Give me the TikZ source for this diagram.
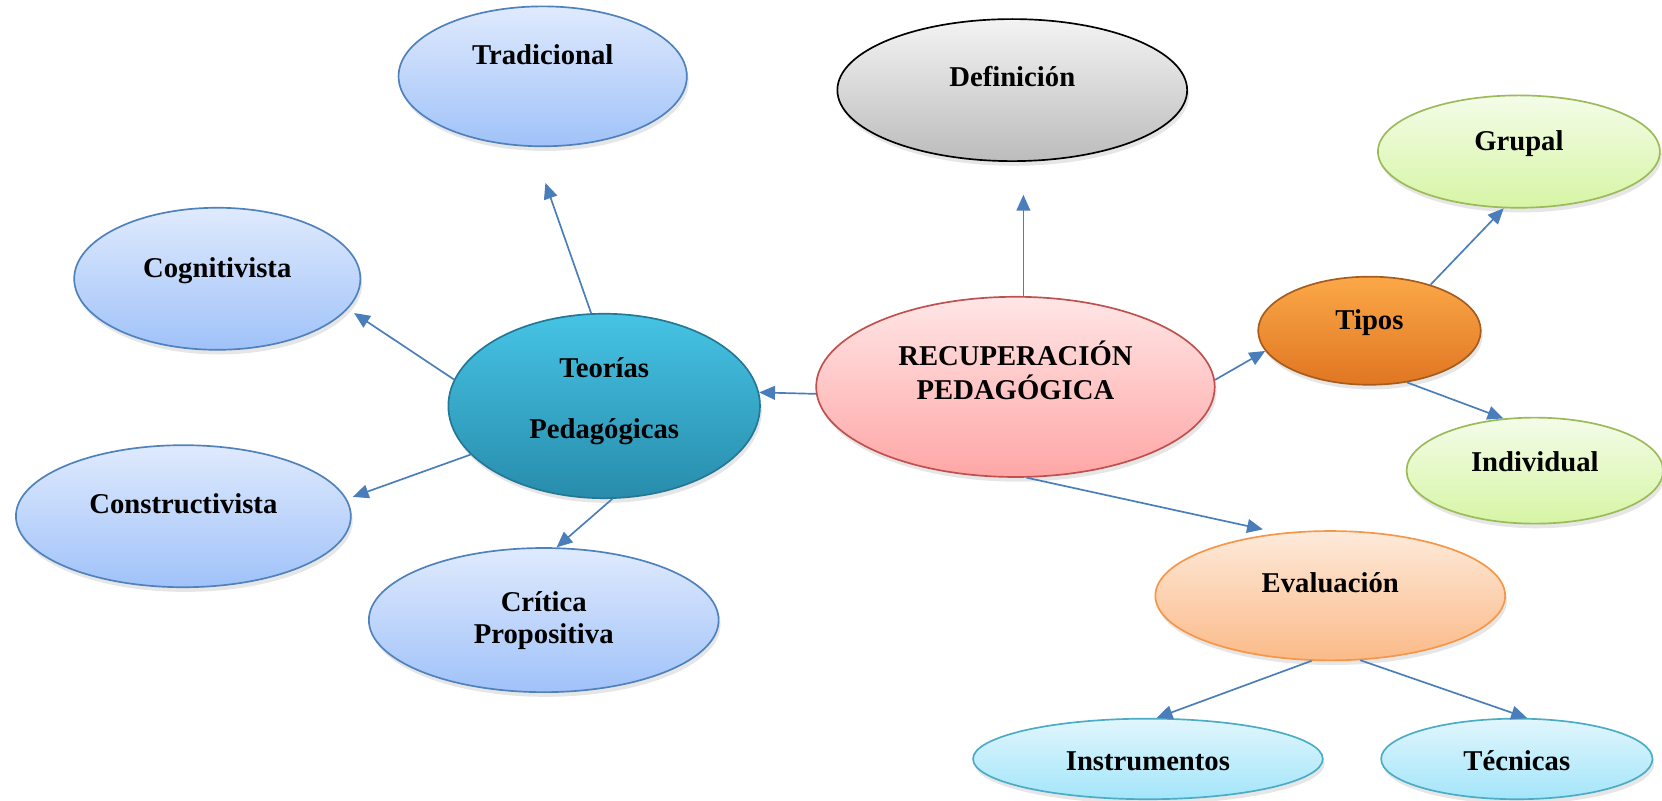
\documentclass[tikz,border=0pt]{standalone}
\usepackage{fontspec}
\setmainfont{Liberation Serif}
\usetikzlibrary{arrows.meta,shapes.geometric,shadows}

\definecolor{linkblue}{RGB}{74,126,187}
\definecolor{blueTop}{RGB}{223,234,253}
\definecolor{blueBot}{RGB}{160,194,249}
\definecolor{blueLine}{RGB}{79,129,189}
\definecolor{greyTop}{RGB}{243,243,243}
\definecolor{greyBot}{RGB}{188,188,188}
\definecolor{greenTop}{RGB}{244,252,232}
\definecolor{greenBot}{RGB}{214,245,165}
\definecolor{greenLine}{RGB}{155,187,89}
\definecolor{tealTop}{RGB}{70,195,228}
\definecolor{tealBot}{RGB}{40,140,172}
\definecolor{tealLine}{RGB}{36,120,150}
\definecolor{orangeTop}{RGB}{251,168,72}
\definecolor{orangeBot}{RGB}{224,118,34}
\definecolor{orangeLine}{RGB}{165,92,28}
\definecolor{pinkTop}{RGB}{255,230,230}
\definecolor{pinkBot}{RGB}{255,166,166}
\definecolor{pinkLine}{RGB}{192,80,77}
\definecolor{peachTop}{RGB}{253,234,218}
\definecolor{peachBot}{RGB}{251,186,136}
\definecolor{peachLine}{RGB}{247,150,70}
\definecolor{cyanTop}{RGB}{224,246,253}
\definecolor{cyanBot}{RGB}{164,229,250}
\definecolor{cyanLine}{RGB}{75,172,198}

\newlength{\pxunit}
\setlength{\pxunit}{0.02cm}
% text sits at its own height inside the oval
\newcommand{\lifted}[2]{\raisebox{#1\pxunit}[0pt][0pt]{\begin{tabular}[b]{@{}c@{}}#2\end{tabular}}}

\tikzset{
  bubble/.style n args={3}{ellipse, draw=#1, top color=#2, bottom color=#3,
    line width=0.9pt, inner sep=0pt,
    font=\bfseries\fontsize{15.4}{17}\selectfont,
    drop shadow={shadow xshift=1pt, shadow yshift=-2.5pt, opacity=0.2}},
  oval/.style 2 args={minimum width=#1\pxunit, minimum height=#2\pxunit},
  theory/.style={bubble={blueLine}{blueTop}{blueBot}},
  kind/.style={bubble={greenLine}{greenTop}{greenBot}},
  tool/.style={bubble={cyanLine}{cyanTop}{cyanBot}},
  link/.style={draw=linkblue, line width=0.9pt, -{Triangle[length=8.5pt,width=7.4pt]}},
}

\begin{document}
\begin{tikzpicture}[x=0.02cm,y=-0.02cm]
    \useasboundingbox (0,0) rectangle (1568,755);

    \node[bubble={pinkLine}{pinkTop}{pinkBot}, oval={376}{170}] (recup) at (958,365)
        {\lifted{-12}{RECUPERACIÓN\\PEDAGÓGICA}};
    \node[bubble={tealLine}{tealTop}{tealBot}, oval={294}{174}] (teo) at (570,383)
        {\lifted{-31}{Teorías\\[16pt]Pedagógicas}};
    \node[bubble={black}{greyTop}{greyBot}, oval={330}{134}] (def) at (955,85) {\lifted{3}{Definición}};
    \node[bubble={orangeLine}{orangeTop}{orangeBot}, oval={210}{102}] (tipos) at (1292,312) {\lifted{1}{Tipos}};
    \node[bubble={peachLine}{peachTop}{peachBot}, oval={330}{122}] (eval) at (1255,562) {\lifted{3}{Evaluación}};

    \node[theory, oval={272}{132}] (trad) at (512,72) {\lifted{11}{Tradicional}};
    \node[theory, oval={270}{134}] (cog) at (205,263) {\lifted{1}{Cognitivista}};
    \node[theory, oval={316}{134}] (cons) at (173,487) {\lifted{3}{Constructivista}};
    \node[theory, oval={330}{136}] (crit) at (513,585) {\lifted{-22}{Crítica\\Propositiva}};

    \node[kind, oval={266}{106}] (grupal) at (1433,143) {\lifted{1}{Grupal}};
    \node[kind, oval={242}{100}] (indiv) at (1448,444) {\lifted{-1}{Individual}};

    \node[tool, oval={330}{76}] (instr) at (1083,716) {\lifted{-11}{Instrumentos}};
    \node[tool, oval={256}{76}] (tec) at (1431,716) {\lifted{-11}{Técnicas}};

    \draw[link] (recup.182) -- (teo.5);
    \draw[link, shorten >=31\pxunit] (recup.85) -- (recup.85 |- def.south);
    \draw[link] (recup.2) -- (tipos.191);
    \draw[link, shorten >=16\pxunit] (recup.277) -- (eval.129);

    \draw[link, shorten >=36\pxunit] (teo.98) -- (trad.262);
    \draw[link, shorten >=7\pxunit] (teo.170) -- (cog.347);
    \draw[link, shorten >=6\pxunit] (teo.200) -- (cons.6);
    \draw[link] (teo.275) -- (crit.80);

    \draw[link] (tipos.37) -- (grupal.255);
    \draw[link] (tipos.306) -- (indiv.121);
    \draw[link] (eval.254) -- (instr.78);
    \draw[link] (eval.295) -- (tec.76);
\end{tikzpicture}
\end{document}
